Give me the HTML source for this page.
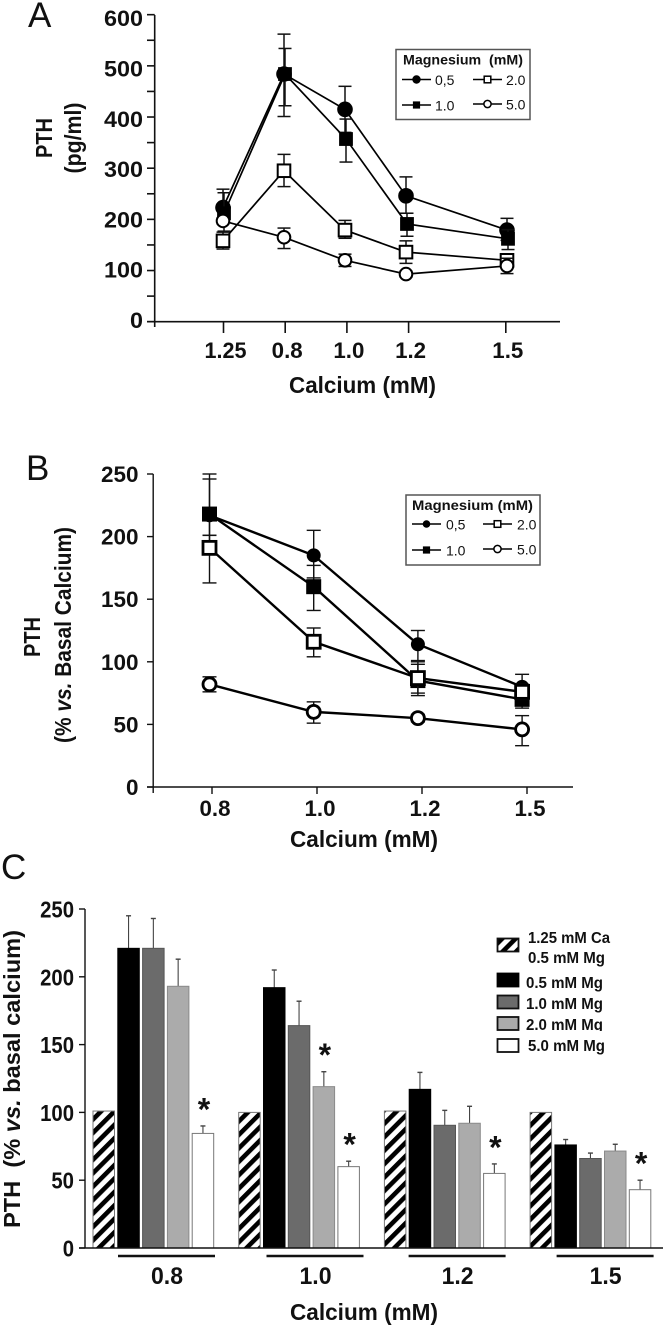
<!DOCTYPE html>
<html lang="en">
<head>
<meta charset="utf-8">
<title>PTH vs calcium and magnesium</title>
<style>
html,body{margin:0;padding:0;background:#fff;width:663px;height:1326px;overflow:hidden}
svg{display:block}
text{font-family:"Liberation Sans",sans-serif;fill:#111}
.b{font-weight:bold}
</style>
</head>
<body>
<svg id="fig" xmlns="http://www.w3.org/2000/svg" width="663" height="1326" viewBox="0 0 663 1326">
<defs>
<pattern id="hatch" patternUnits="userSpaceOnUse" width="9.5" height="9.5" patternTransform="rotate(45)">
<rect width="9.5" height="9.5" fill="#fff"/>
<rect width="4.6" height="9.5" fill="#000"/>
</pattern>
<clipPath id="clip-legend-ma"><rect x="520" y="1012" width="100" height="19"/></clipPath>
</defs>
<g id="panelA"></g>
<g id="panelB"></g>
<g id="panelC"></g>

<text x="28" y="27" font-size="35">A</text>
<text x="26" y="480" font-size="35">B</text>
<text x="1" y="879" font-size="35">C</text>

<text class="b" font-size="23" text-anchor="middle" textLength="40" lengthAdjust="spacingAndGlyphs" transform="translate(52,138) rotate(-90)">PTH</text>
<text class="b" font-size="23" text-anchor="middle" textLength="71" lengthAdjust="spacingAndGlyphs" transform="translate(81,138) rotate(-90)">(pg/ml)</text>
<text class="b" font-size="23" x="289" y="393" textLength="147" lengthAdjust="spacingAndGlyphs">Calcium (mM)</text>

<text class="b" font-size="23" text-anchor="middle" textLength="40" lengthAdjust="spacingAndGlyphs" transform="translate(40,637) rotate(-90)">PTH</text>
<text class="b" font-size="23" text-anchor="middle" textLength="216" lengthAdjust="spacingAndGlyphs" transform="translate(71,635) rotate(-90)">(% <tspan font-style="italic">vs.</tspan> Basal Calcium)</text>
<text class="b" font-size="23" x="290" y="847" textLength="148" lengthAdjust="spacingAndGlyphs">Calcium (mM)</text>

<text class="b" font-size="23" text-anchor="middle" textLength="298" lengthAdjust="spacingAndGlyphs" transform="translate(20,1079) rotate(-90)">PTH&#160;&#160;(% <tspan font-style="italic">vs.</tspan> basal calcium)</text>
<text class="b" font-size="23" x="290" y="1320" textLength="148" lengthAdjust="spacingAndGlyphs">Calcium (mM)</text>

<g id="legendA">
<rect x="396" y="49.5" width="134" height="70" fill="#fff" stroke="#555" stroke-width="1.5"/>
<text class="b" x="403" y="64.5" font-size="13.5" textLength="120" lengthAdjust="spacingAndGlyphs">Magnesium&#160;&#160;(mM)</text>
</g>
<g id="legendB">
<rect x="406" y="495" width="134" height="70" fill="#fff" stroke="#555" stroke-width="1.5"/>
<text class="b" x="412" y="510" font-size="13.5" textLength="121" lengthAdjust="spacingAndGlyphs">Magnesium (mM)</text>
</g>
<g>
<rect x="497.5" y="938.5" width="21" height="13" fill="url(#hatch)" stroke="#111" stroke-width="1.8"/>
<rect x="497.5" y="973.5" width="21" height="13" fill="#000" stroke="#000" stroke-width="1.8"/>
<rect x="497.5" y="995.5" width="21" height="13" fill="#6b6b6b" stroke="#111" stroke-width="1.8"/>
<rect x="497.5" y="1017" width="21" height="13" fill="#ababab" stroke="#111" stroke-width="1.8"/>
<rect x="497.5" y="1039" width="21" height="13" fill="#fff" stroke="#111" stroke-width="1.8"/>
<text class="b" x="528" y="943" font-size="16" textLength="82" lengthAdjust="spacingAndGlyphs">1.25 mM Ca</text>
<text class="b" x="528" y="963" font-size="16" textLength="77" lengthAdjust="spacingAndGlyphs">0.5 mM Mg</text>
<text class="b" x="526" y="988" font-size="16" textLength="77" lengthAdjust="spacingAndGlyphs">0.5 mM Mg</text>
<text class="b" x="526" y="1009" font-size="16" textLength="77" lengthAdjust="spacingAndGlyphs">1.0 mM Mg</text>
<text class="b" x="526" y="1030" font-size="16" textLength="77" lengthAdjust="spacingAndGlyphs" clip-path="url(#clip-legend-ma)">2.0 mM Mg</text>
<text class="b" x="528" y="1051" font-size="16" textLength="77" lengthAdjust="spacingAndGlyphs">5.0 mM Mg</text>
</g>
</svg>
<script>
/* ---------- Panel A data ---------- */
const aCategories = ['1.25', '0.8', '1.0', '1.2', '1.5'];
const aYTicks = [0, 100, 200, 300, 400, 500, 600];
const aMinorTicks = [50, 150, 250, 350, 450, 550];
const aMg05 = [223, 484, 415, 246, 179];
const aMg05Up = [36, 78, 45, 37, 23];
const aMg05Down = [30, 83, 45, 34, 20];
const aMg10 = [212, 484, 357, 191, 162];
const aMg10Up = [40, 50, 39, 21, 18];
const aMg10Down = [35, 62, 45, 24, 21];
const aMg20 = [158, 295, 179, 136, 120];
const aMg20Up = [17, 32, 19, 22, 5];
const aMg20Down = [16, 31, 16, 22, 5];
const aMg50 = [197, 165, 120, 93, 109];
const aMg50Up = [6, 18, 12, 6, 15];
const aMg50Down = [6, 22, 12, 6, 15];

/* ---------- Panel B data ---------- */
const bCategories = ['0.8', '1.0', '1.2', '1.5'];
const bYTicks = [0, 50, 100, 150, 200, 250];
const bMg05 = [217, 185, 114, 80];
const bMg05Up = [33, 20, 11, 10];
const bMg05Down = [30, 18, 13, 8];
const bMg10 = [218, 160, 85, 70];
const bMg10Up = [28, 17, 15, 6];
const bMg10Down = [17, 19, 12, 7];
const bMg20 = [191, 116, 87, 76];
const bMg20Up = [10, 11, 11, 6];
const bMg20Down = [28, 12, 12, 6];
const bMg50 = [82, 60, 55, 46];
const bMg50Up = [6, 8, 3, 11];
const bMg50Down = [6, 9, 3, 13];

/* ---------- Panel C data ---------- */
const cCategories = ['0.8', '1.0', '1.2', '1.5'];
const cYTicks = [0, 50, 100, 150, 200, 250];
const cBasal = [101, 100, 101, 100];
const cBasalErr = [0, 0, 0, 0];
const cMg05 = [221, 192, 117, 76];
const cMg05Err = [24, 13, 12.5, 4];
const cMg10 = [221, 164, 90.5, 66];
const cMg10Err = [22, 18, 11, 4];
const cMg20 = [193, 119, 92, 71.5];
const cMg20Err = [20, 11, 12.5, 5];
const cMg50 = [84.5, 60, 55, 43];
const cMg50Err = [5.5, 4, 7, 7];
const cStarsOnMg20 = ['', '*', '', ''];
const cStarsOnMg50 = ['*', '*', '*', '*'];

/* ---------- helpers ---------- */
const NS = 'http://www.w3.org/2000/svg';
function mk(parent, tag, attrs, name, text) {
  const el = document.createElementNS(NS, tag);
  for (const k in attrs) el.setAttribute(k, attrs[k]);
  
  
  if (text !== undefined) el.textContent = text;
  parent.appendChild(el);
  return el;
}
function line(p, x1, y1, x2, y2, sw, name, color) {
  return mk(p, 'line', {x1: x1, y1: y1, x2: x2, y2: y2, stroke: color || '#111', 'stroke-width': sw}, name);
}
function marker(p, kind, x, y, size, sw, name) {
  if (kind === 'filled-circle') mk(p, 'circle', {cx: x, cy: y, r: size, fill: '#000'}, name);
  if (kind === 'open-circle') mk(p, 'circle', {cx: x, cy: y, r: size, fill: '#fff', stroke: '#000', 'stroke-width': sw}, name);
  if (kind === 'filled-square') mk(p, 'rect', {x: x - size, y: y - size, width: 2 * size, height: 2 * size, fill: '#000'}, name);
  if (kind === 'open-square') mk(p, 'rect', {x: x - size, y: y - size, width: 2 * size, height: 2 * size, fill: '#fff', stroke: '#000', 'stroke-width': sw}, name);
}
function drawSeries(p, label, kind, vals, up, down, xf, yf, cap, errW, lineW, markW, size) {
  const g = mk(p, 'g', {}, 'series-' + label);
  vals.forEach(function (v, i) {
    const x = xf(i);
    line(g, x, yf(v + up[i]), x, yf(v - down[i]), errW, 'error-bar-' + label);
    line(g, x - cap, yf(v + up[i]), x + cap, yf(v + up[i]), errW, 'error-cap-top-' + label);
    line(g, x - cap, yf(v - down[i]), x + cap, yf(v - down[i]), errW, 'error-cap-bottom-' + label);
  });
  const pts = vals.map(function (v, i) { return xf(i) + ',' + yf(v); }).join(' ');
  mk(g, 'polyline', {points: pts, fill: 'none', stroke: '#000', 'stroke-width': lineW}, 'series-line-' + label);
  vals.forEach(function (v, i) {
    marker(g, kind, xf(i), yf(v), size, markW, 'point-' + label);
  });
}
function legendEntry(p, kind, lx, rowY, label, textX, size) {
  line(p, lx, rowY, lx + 29, rowY, 1.4, 'legend-line-' + label, '#000');
  marker(p, kind, lx + 14.5, rowY, size, 1.5, 'legend-marker-' + label);
  mk(p, 'text', {x: textX, y: rowY + 5.5, 'font-size': 14}, 'legend-text-' + label, label);
}

/* ---------- Panel A ---------- */
(function () {
  const p = document.getElementById('panelA');
  const y = function (v) { return 321.7 - v * 0.5117; };
  const labelY = function (v) { return 320 - v * 0.503; };
  const xPoint = function (i) { return 223 + 61 * i + (i === 4 ? 40 : 0); };
  const xPointShifted = function (i) { return xPoint(i) + 1; };
  const xTick = function (i) { return 223.5 + 61.7 * i + (i === 4 ? 35.5 : 0); };
  line(p, 154.7, 15, 154.7, 327, 1.6, 'a-y-axis');
  line(p, 147, 321.7, 560, 321.7, 1.6, 'a-x-axis');
  aYTicks.forEach(function (t) {
    line(p, 147, y(t), 154.7, y(t), 1.6, 'a-y-tick-' + t);
    const len = String(t).length * 13;
    mk(p, 'text', {x: 143, y: labelY(t) + 8, 'font-size': 22, 'font-weight': 'bold', 'text-anchor': 'end', textLength: len, lengthAdjust: 'spacingAndGlyphs'}, 'a-y-label-' + t, String(t));
  });
  aMinorTicks.forEach(function (t) {
    line(p, 147, y(t), 154.7, y(t), 1.6, 'a-y-minor-tick-' + t);
  });
  aCategories.forEach(function (c, i) {
    line(p, xTick(i), 321.7, xTick(i), 333, 1.6, 'a-x-tick-' + c);
    const w = c.length === 4 ? 42 : 31;
    mk(p, 'text', {x: xTick(i) + 2, y: 358, 'font-size': 22, 'font-weight': 'bold', 'text-anchor': 'middle', textLength: w, lengthAdjust: 'spacingAndGlyphs'}, 'a-x-label-' + c, c);
  });
  drawSeries(p, 'a-mg-0-5', 'filled-circle', aMg05, aMg05Up, aMg05Down, xPoint, y, 6.5, 1.5, 1.7, 2, 7.8);
  drawSeries(p, 'a-mg-1-0', 'filled-square', aMg10, aMg10Up, aMg10Down, xPointShifted, y, 6.5, 1.5, 1.7, 2, 6.9);
  drawSeries(p, 'a-mg-2-0', 'open-square', aMg20, aMg20Up, aMg20Down, xPoint, y, 6.5, 1.5, 1.7, 2, 6.3);
  drawSeries(p, 'a-mg-5-0', 'open-circle', aMg50, aMg50Up, aMg50Down, xPoint, y, 6.5, 1.5, 1.7, 2, 6.3);
  const l = document.getElementById('legendA');
  legendEntry(l, 'filled-circle', 402, 79.5, '0,5', 435, 4.2);
  legendEntry(l, 'filled-square', 402, 105, '1.0', 435, 3.6);
  legendEntry(l, 'open-square', 473, 79.5, '2.0', 506, 3.3);
  legendEntry(l, 'open-circle', 473, 104, '5.0', 506, 3.6);
})();

/* ---------- Panel B ---------- */
(function () {
  const p = document.getElementById('panelB');
  const y = function (v) { return 787 - v * 1.252; };
  const xPoint = function (i) { return 209.5 + 104.2 * i; };
  const xTick = function (i) { return 212 + 105 * i; };
  line(p, 153.2, 474, 153.2, 793, 1.4, 'b-y-axis');
  line(p, 147, 787, 573, 787, 1.4, 'b-x-axis');
  bYTicks.forEach(function (t) {
    line(p, 147, y(t), 153.2, y(t), 1.4, 'b-y-tick-' + t);
    const len = String(t).length * 12.5;
    mk(p, 'text', {x: 138.5, y: y(t) + 8, 'font-size': 22, 'font-weight': 'bold', 'text-anchor': 'end', textLength: len, lengthAdjust: 'spacingAndGlyphs'}, 'b-y-label-' + t, String(t));
  });
  bCategories.forEach(function (c, i) {
    line(p, xTick(i), 787, xTick(i), 794, 1.4, 'b-x-tick-' + c);
    mk(p, 'text', {x: xTick(i) + 3, y: 816, 'font-size': 22, 'font-weight': 'bold', 'text-anchor': 'middle', textLength: 31, lengthAdjust: 'spacingAndGlyphs'}, 'b-x-label-' + c, c);
  });
  drawSeries(p, 'b-mg-0-5', 'filled-circle', bMg05, bMg05Up, bMg05Down, xPoint, y, 7, 1.4, 2.4, 2.8, 7);
  drawSeries(p, 'b-mg-1-0', 'filled-square', bMg10, bMg10Up, bMg10Down, xPoint, y, 7, 1.4, 2.4, 2.8, 7.5);
  drawSeries(p, 'b-mg-2-0', 'open-square', bMg20, bMg20Up, bMg20Down, xPoint, y, 7, 1.4, 2.4, 2.8, 6.5);
  drawSeries(p, 'b-mg-5-0', 'open-circle', bMg50, bMg50Up, bMg50Down, xPoint, y, 7, 1.4, 2.4, 2.8, 6.5);
  const l = document.getElementById('legendB');
  legendEntry(l, 'filled-circle', 412, 524, '0,5', 446, 3.8);
  legendEntry(l, 'filled-square', 412, 550, '1.0', 446, 3.6);
  legendEntry(l, 'open-square', 483, 524, '2.0', 517, 3.3);
  legendEntry(l, 'open-circle', 483, 549, '5.0', 517, 3.6);
})();

/* ---------- Panel C ---------- */
(function () {
  const p = document.getElementById('panelC');
  const y = function (v) { return 1248 - v * 1.356; };
  const groupX = function (g) { return 93 + 145.7 * g; };
  const barX = function (g, b) { return groupX(g) + 24.8 * b; };
  const ruleX = function (g) { return 118 + 146.2 * g + (g === 1 ? 2.3 : g === 2 ? -1.8 : 0); };
  const barW = 21.5;
  const starGap = 19;
  const starBaseline = 13.5;
  line(p, 85, 909, 85, 1248, 1.4, 'c-y-axis');
  cYTicks.forEach(function (t) {
    line(p, 79, y(t), 85, y(t), 1.4, 'c-y-tick-' + t);
    const len = String(t).length * 11.3;
    mk(p, 'text', {x: 74, y: y(t) + 8.5, 'font-size': 23, 'font-weight': 'bold', 'text-anchor': 'end', textLength: len, lengthAdjust: 'spacingAndGlyphs'}, 'c-y-label-' + t, String(t));
  });
  const series = [
    {label: 'basal', vals: cBasal, errs: cBasalErr, fill: 'url(#hatch)', stroke: '#777'},
    {label: 'mg-0-5', vals: cMg05, errs: cMg05Err, fill: '#000', stroke: '#000'},
    {label: 'mg-1-0', vals: cMg10, errs: cMg10Err, fill: '#6b6b6b', stroke: '#555'},
    {label: 'mg-2-0', vals: cMg20, errs: cMg20Err, fill: '#ababab', stroke: '#8a8a8a'},
    {label: 'mg-5-0', vals: cMg50, errs: cMg50Err, fill: '#fff', stroke: '#777'}
  ];
  series.forEach(function (s, b) {
    s.vals.forEach(function (v, g) {
      const x = barX(g, b);
      if (s.errs[g] > 0) {
        const cx = x + barW / 2;
        line(p, cx, y(v), cx, y(v + s.errs[g]), 1.1, 'c-error-bar-' + s.label, '#444');
        line(p, cx - 2.5, y(v + s.errs[g]), cx + 2.5, y(v + s.errs[g]), 1.4, 'c-error-cap-' + s.label, '#444');
      }
      mk(p, 'rect', {x: x, y: y(v), width: barW, height: y(0) - y(v), fill: s.fill, stroke: s.stroke, 'stroke-width': 1}, 'c-bar-' + s.label + '-' + cCategories[g]);
    });
  });
  line(p, 79, 1248, 663, 1248, 1.6, 'c-x-axis');
  cCategories.forEach(function (c, g) {
    const x0 = ruleX(g);
    line(p, x0, 1256, x0 + 97, 1256, 2.4, 'c-group-rule-' + c);
    mk(p, 'text', {x: x0 + 49, y: 1284, 'font-size': 24, 'font-weight': 'bold', 'text-anchor': 'middle', textLength: 32, lengthAdjust: 'spacingAndGlyphs'}, 'c-x-label-' + c, c);
    if (cStarsOnMg20[g]) {
      mk(p, 'text', {x: barX(g, 3) + barW / 2 + 1, y: y(cMg20[g] + cMg20Err[g]) - starGap + starBaseline, 'font-size': 32, 'font-weight': 'bold', 'text-anchor': 'middle'}, 'c-significance-star-mg-2-0-' + c, cStarsOnMg20[g]);
    }
    if (cStarsOnMg50[g]) {
      mk(p, 'text', {x: barX(g, 4) + barW / 2 + 1, y: y(cMg50[g] + cMg50Err[g]) - starGap + starBaseline, 'font-size': 32, 'font-weight': 'bold', 'text-anchor': 'middle'}, 'c-significance-star-mg-5-0-' + c, cStarsOnMg50[g]);
    }
  });
})();
</script>
</body>
</html>
